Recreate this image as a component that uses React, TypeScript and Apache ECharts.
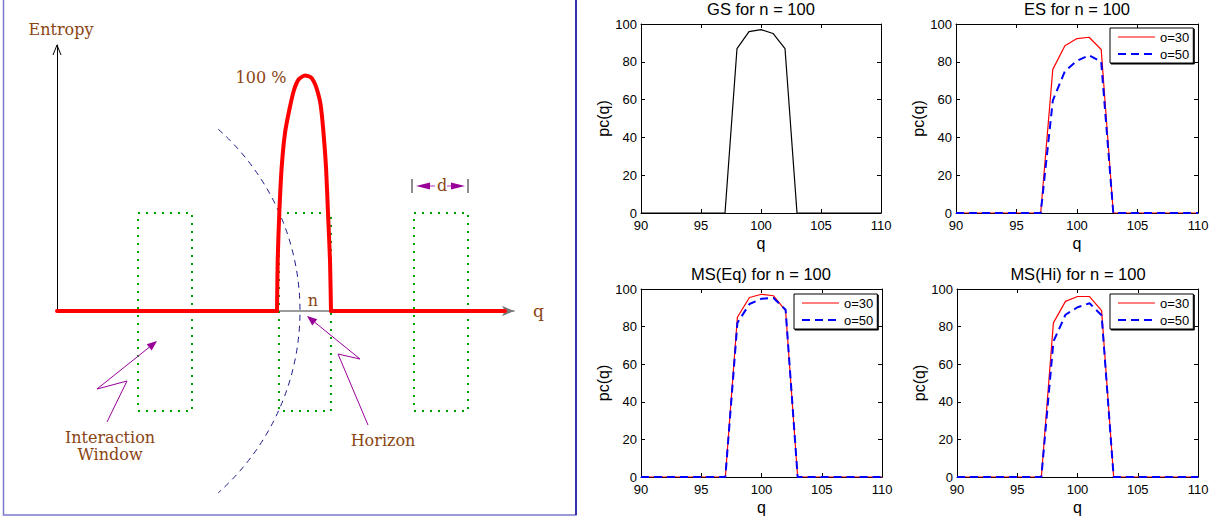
import React, { useEffect, useRef } from 'react';
import * as echarts from 'echarts';

// ---------- data for the four MATLAB-style panels ----------
const qValues = [90, 91, 92, 93, 94, 95, 96, 97, 98, 99, 100, 101, 102, 103, 104, 105, 106, 107, 108, 109, 110];
const gsValues = [0, 0, 0, 0, 0, 0, 0, 0, 87, 96, 97, 95, 87, 0, 0, 0, 0, 0, 0, 0, 0];
const esO30 = [0, 0, 0, 0, 0, 0, 0, 0, 76, 88.5, 92.3, 93, 86.5, 0, 0, 0, 0, 0, 0, 0, 0];
const esO50 = [0, 0, 0, 0, 0, 0, 0, 0, 59.5, 75, 80.5, 83.5, 80, 0, 0, 0, 0, 0, 0, 0, 0];
const msEqO30 = [0, 0, 0, 0, 0, 0, 0, 0, 85, 95.5, 97.2, 96.4, 88.5, 0, 0, 0, 0, 0, 0, 0, 0];
const msEqO50 = [0, 0, 0, 0, 0, 0, 0, 0, 82, 92, 94.8, 95.2, 89, 0, 0, 0, 0, 0, 0, 0, 0];
const msHiO30 = [0, 0, 0, 0, 0, 0, 0, 0, 82, 93.4, 96, 96, 88.5, 0, 0, 0, 0, 0, 0, 0, 0];
const msHiO50 = [0, 0, 0, 0, 0, 0, 0, 0, 72, 86.3, 90.3, 92.4, 86, 0, 0, 0, 0, 0, 0, 0, 0];
const legendNames = ['o=30', 'o=50'];
const panelTitles = ['GS for n = 100', 'ES for n = 100', 'MS(Eq) for n = 100', 'MS(Hi) for n = 100'];

// ---------- data for the schematic (diagram units) ----------
const baselineLeft = [[0, 0], [220, 0]];
const baselineRight = [[274, 0], [448, 0]];
const entropyHump = [
  [220, 0], [220.7, 51], [222.3, 98], [224.7, 144], [228, 178], [232.3, 201], [237, 221],
  [242, 232], [248, 235.5], [254, 233.5], [258, 227], [261, 218], [263.5, 207], [266, 184], [269, 144],
  [271, 98], [273, 51], [274, 0],
];
const windowSpans = [[81, 135], [222, 274], [357, 411]];
const windowTop = 98;
const windowBottom = -100;

const SANS = 'Liberation Sans, Arial, Helvetica, sans-serif';
const SERIF = 'DejaVu Serif, serif';
const BROWN = '#8b4513';
const PURPLE = '#990099';

// legend icons: a thin solid line and a dashed line (bounding box kept 37 x 14)
const ICON_SOLID = 'path://M0,0H37V0.01H0Z M0,6.4H37V7.6H0Z M0,14H37V14.01H0Z';
const ICON_DASHED = 'path://M0,0H37V0.01H0Z M0,6H8V8H0Z M13,6H21V8H13Z M26,6H34V8H26Z M0,14H37V14.01H0Z';

type P = {
  left: number; top: number; width: number; height: number; titleX: number; titleY: number;
  series: { name: string; values: number[]; color: string; dashed?: boolean }[];
  legend: { left: number; top: number } | null;
};

const panels: P[] = [
  { left: 641, top: 24, width: 240, height: 189, titleX: 761, titleY: 0, legend: null,
    series: [{ name: 'GS', values: gsValues, color: '#000000' }] },
  { left: 956, top: 24, width: 242, height: 189, titleX: 1077, titleY: 0, legend: { left: 1110, top: 28 },
    series: [{ name: 'o=30', values: esO30, color: '#ff0000' }, { name: 'o=50', values: esO50, color: '#0000ff', dashed: true }] },
  { left: 641, top: 289, width: 241, height: 188, titleX: 761, titleY: 265, legend: { left: 794, top: 294 },
    series: [{ name: 'o=30', values: msEqO30, color: '#ff0000' }, { name: 'o=50', values: msEqO50, color: '#0000ff', dashed: true }] },
  { left: 957, top: 289, width: 241, height: 188, titleX: 1078, titleY: 265, legend: { left: 1110, top: 294 },
    series: [{ name: 'o=30', values: msHiO30, color: '#ff0000' }, { name: 'o=50', values: msHiO50, color: '#0000ff', dashed: true }] },
];

function buildOption() {
  const grids: any[] = [{ left: 57, top: 45, width: 457, height: 266, show: false }];
  const xAxes: any[] = [{
    gridIndex: 0, type: 'value', min: 0, max: 457,
    axisLine: { show: true, onZero: false, lineStyle: { color: '#7a7a7a', width: 1.5 }, symbol: ['none', 'arrow'], symbolSize: [8, 12] },
    axisTick: { show: false }, axisLabel: { show: false }, splitLine: { show: false },
    name: 'q', nameLocation: 'end', nameGap: 19,
    nameTextStyle: { fontFamily: SERIF, fontSize: 17, color: BROWN },
  }];
  const yAxes: any[] = [{
    gridIndex: 0, type: 'value', min: 0, max: 266,
    axisLine: { show: true, onZero: false, lineStyle: { color: '#000', width: 1 } },
    axisTick: { show: false }, axisLabel: { show: false }, splitLine: { show: false },
    name: 'Entropy', nameLocation: 'end', nameGap: 8,
    nameTextStyle: { fontFamily: SERIF, fontSize: 16, color: BROWN, padding: [0, 0, 0, 8] },
  }];
  const series: any[] = [];

  windowSpans.forEach(([a, b]) => {
    series.push({
      type: 'line', xAxisIndex: 0, yAxisIndex: 0, clip: false, silent: true, symbol: 'none', z: 3,
      data: [[a, windowTop], [b, windowTop], [b, windowBottom], [a, windowBottom], [a, windowTop]],
      lineStyle: { color: '#00a000', width: 2, type: [2, 6] },
    });
  });
  [baselineLeft, baselineRight].forEach((d) => {
    series.push({
      type: 'line', xAxisIndex: 0, yAxisIndex: 0, clip: false, silent: true, symbol: 'none', z: 5,
      data: d, lineStyle: { color: '#ff0000', width: 4, cap: 'round' },
    });
  });
  series.push({
    type: 'line', xAxisIndex: 0, yAxisIndex: 0, clip: false, silent: true, symbol: 'none', z: 5, smooth: 0.2,
    data: entropyHump, lineStyle: { color: '#ff0000', width: 4, join: 'round', cap: 'round' },
  });

  const tickStyle = { show: true, inside: true, length: 4, lineStyle: { color: '#000', width: 1 } };
  const lineAx = { show: true, onZero: false, lineStyle: { color: '#000', width: 1 } };
  const labelStyle = { color: '#000', fontSize: 13, fontFamily: SANS, lineHeight: 11 };
  const nameStyle = { color: '#000', fontSize: 16, fontFamily: SANS };

  panels.forEach((p, i) => {
    const g = i + 1;
    grids.push({ left: p.left, top: p.top, width: p.width, height: p.height, show: false });
    xAxes.push({
      gridIndex: g, type: 'value', min: 90, max: 110, interval: 5, position: 'bottom',
      axisLine: lineAx, axisTick: tickStyle, axisLabel: { ...labelStyle, margin: 7 }, splitLine: { show: false },
      name: 'q', nameLocation: 'middle', nameGap: 22, nameTextStyle: nameStyle,
    });
    xAxes.push({
      gridIndex: g, type: 'value', min: 90, max: 110, interval: 5, position: 'top',
      axisLine: lineAx, axisTick: tickStyle, axisLabel: { show: false }, splitLine: { show: false },
    });
    yAxes.push({
      gridIndex: g, type: 'value', min: 0, max: 100, interval: 20, position: 'left',
      axisLine: lineAx, axisTick: tickStyle, axisLabel: { ...labelStyle, margin: 4 }, splitLine: { show: false },
      name: 'pc(q)', nameLocation: 'middle', nameGap: 30, nameTextStyle: nameStyle,
    });
    yAxes.push({
      gridIndex: g, type: 'value', min: 0, max: 100, interval: 20, position: 'right',
      axisLine: lineAx, axisTick: tickStyle, axisLabel: { show: false }, splitLine: { show: false },
    });
    p.series.forEach((s) => {
      series.push({
        type: 'line', name: s.name, xAxisIndex: 1 + 2 * i, yAxisIndex: 1 + 2 * i, symbol: 'none', silent: true,
        data: qValues.map((q, k) => [q, s.values[k]]),
        z: s.dashed ? 4 : 3,
        itemStyle: { color: s.color },
        lineStyle: { color: s.color, width: s.dashed ? 2 : 1.2, type: s.dashed ? [8, 5] : 'solid' },
      });
    });
  });

  const titles = panels.map((p, i) => ({
    text: panelTitles[i], left: p.titleX, top: p.titleY, textAlign: 'center', padding: 0,
    textStyle: { fontSize: 16.5, fontWeight: 'normal', color: '#000', fontFamily: SANS, lineHeight: 17 },
  }));

  const legends = panels.filter((p) => p.legend).map((p) => ({
    orient: 'vertical', left: p.legend!.left, top: p.legend!.top,
    data: [
      { name: legendNames[0], icon: ICON_SOLID },
      { name: legendNames[1], icon: ICON_DASHED },
    ],
    itemWidth: 37, itemHeight: 14, itemGap: 3, padding: [2, 4, 2, 8],
    borderColor: '#000', borderWidth: 1, backgroundColor: '#fff', selectedMode: false,
    shadowColor: '#000', shadowBlur: 0, shadowOffsetX: 1, shadowOffsetY: 1,
    textStyle: { fontSize: 13, color: '#000', fontFamily: SANS },
  }));

  const text = (t: string, x: number, y: number, size = 16) => ({
    type: 'text', x, y, z: 10, silent: true,
    style: { text: t, fill: BROWN, fontSize: size, fontFamily: SERIF, align: 'center', verticalAlign: 'middle' },
  });

  const graphic: any[] = [
    { type: 'rect', z: -1, silent: true, shape: { x: 3.5, y: -10, width: 572.5, height: 525 },
      style: { fill: null, stroke: '#7a7acc', lineWidth: 1.5 } },
    { type: 'line', silent: true, shape: { x1: 576, y1: -10, x2: 576, y2: 515 }, style: { stroke: '#1010a0', lineWidth: 1.5 } },
    { type: 'arc', silent: true, z: 2, shape: { cx: 57, cy: 311, r: 243, startAngle: -0.845, endAngle: 0.845, clockwise: true },
      style: { fill: null, stroke: '#1a1a8c', lineWidth: 1, lineDash: [6, 5] } },
    { type: 'polyline', silent: true, shape: { points: [[53, 55], [57, 45], [61, 55]] }, style: { fill: null, stroke: '#000', lineWidth: 1 } },
    // Horizon arrow
    { type: 'polyline', silent: true, z: 6, shape: { points: [[368, 425], [338, 354], [360, 359], [314.8, 322.3]] },
      style: { fill: null, stroke: PURPLE, lineWidth: 1 } },
    { type: 'polygon', silent: true, z: 6, shape: { points: [[307, 316], [317.3, 319.2], [312.3, 325.4]] }, style: { fill: PURPLE } },
    // Interaction window arrow
    { type: 'polyline', silent: true, z: 6, shape: { points: [[107, 422], [127, 381], [97, 389], [149.2, 347.3]] },
      style: { fill: null, stroke: PURPLE, lineWidth: 1 } },
    { type: 'polygon', silent: true, z: 6, shape: { points: [[157, 341], [151.7, 350.4], [146.7, 344.2]] }, style: { fill: PURPLE } },
    // d marker
    { type: 'line', silent: true, shape: { x1: 412, y1: 179, x2: 412, y2: 193 }, style: { stroke: '#444', lineWidth: 1.2 } },
    { type: 'line', silent: true, shape: { x1: 468, y1: 179, x2: 468, y2: 193 }, style: { stroke: '#444', lineWidth: 1.2 } },
    { type: 'polygon', silent: true, shape: { points: [[416, 186], [430, 182.5], [430, 189.5]] }, style: { fill: PURPLE } },
    { type: 'line', silent: true, shape: { x1: 430, y1: 186, x2: 435, y2: 186 }, style: { stroke: '#cc77cc', lineWidth: 1.5 } },
    { type: 'polygon', silent: true, shape: { points: [[465, 186], [451, 182.5], [451, 189.5]] }, style: { fill: PURPLE } },
    { type: 'line', silent: true, shape: { x1: 447, y1: 186, x2: 451, y2: 186 }, style: { stroke: '#cc77cc', lineWidth: 1.5 } },
    text('d', 442, 185),
    text('100 %', 261, 77),
    text('n', 313, 300),
    text('Interaction', 110, 437),
    text('Window', 110, 454),
    text('Horizon', 383, 440),
  ];

  return {
    animation: false,
    backgroundColor: '#ffffff',
    title: titles,
    legend: legends,
    grid: grids,
    xAxis: xAxes,
    yAxis: yAxes,
    series,
    graphic,
  };
}

export default function App() {
  const ref = useRef<HTMLDivElement>(null);
  useEffect(() => {
    if (!ref.current) return;
    const chart = echarts.init(ref.current, undefined, { renderer: 'svg' });
    chart.setOption(buildOption() as any);
    return () => chart.dispose();
  }, []);
  return (
    <div
      ref={ref}
      style={{ position: 'fixed', left: 0, top: 0, width: 1225, height: 518, background: '#fff' }}
    />
  );
}
